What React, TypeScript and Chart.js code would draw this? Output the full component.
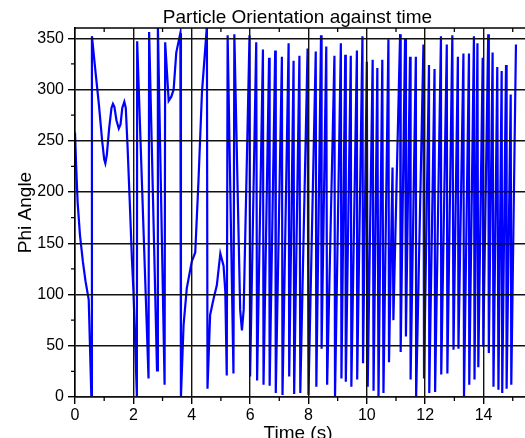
import React, { useEffect, useRef } from "react";
import { Chart, registerables } from "chart.js";

Chart.register(...registerables);

const titleText = "Particle Orientation against time";
const xAxisTitle = "Time (s)";
const yAxisTitle = "Phi Angle";

const xTickValues = [0, 2, 4, 6, 8, 10, 12, 14];
const xMinorTicks = [1, 3, 5, 7, 9, 11, 13, 15];
const yTickValues = [0, 50, 100, 150, 200, 250, 300, 350];
const yMinorTicks = [25, 75, 125, 175, 225, 275, 325];

const timeValues = [
  0.0, 0.04, 0.09, 0.17, 0.27, 0.36, 0.47, 0.56, 0.58, 0.7, 0.82, 0.93, 1.0, 1.04, 1.09, 1.17, 1.25, 1.3, 1.35,
  1.42, 1.5, 1.56, 1.62, 1.69, 1.74, 1.8, 1.87, 1.95, 2.0, 2.06, 2.12, 2.13, 2.52, 2.54, 2.81, 2.84, 3.07,
  3.09, 3.21, 3.3, 3.38, 3.47, 3.61, 3.63, 3.72, 3.83, 4.0, 4.12, 4.23, 4.35, 4.52, 4.54, 4.63, 4.75, 4.86,
  4.98, 5.09, 5.15, 5.2, 5.23, 5.43, 5.46, 5.66, 5.72, 5.78, 5.98, 6.0, 6.21, 6.24, 6.44, 6.46, 6.65, 6.67,
  6.86, 6.88, 7.09, 7.11, 7.32, 7.34, 7.49, 7.51, 7.69, 7.72, 7.97, 8.0, 8.25, 8.27, 8.43, 8.45, 8.61, 8.64,
  8.89, 8.91, 9.11, 9.13, 9.26, 9.28, 9.45, 9.47, 9.66, 9.67, 9.85, 9.87, 10.0, 10.03, 10.2, 10.23, 10.36,
  10.4, 10.53, 10.57, 10.74, 10.76, 10.88, 10.91, 11.14, 11.16, 11.31, 11.34, 11.48, 11.5, 11.68, 11.69,
  11.94, 11.96, 12.13, 12.14, 12.32, 12.34, 12.54, 12.55, 12.74, 12.76, 12.93, 12.97, 13.12, 13.14, 13.31,
  13.33, 13.5, 13.51, 13.67, 13.69, 13.79, 13.82, 13.97, 13.99, 14.16, 14.18, 14.31, 14.34, 14.47, 14.51,
  14.62, 14.64, 14.77, 14.79, 14.93, 14.95, 15.11,
];

const phiValues = [
  258, 225, 190, 158, 132, 113, 95, 0, 352, 318, 285, 250, 232, 228, 236, 262, 282, 286, 283,
  270, 262, 266, 282, 288, 282, 245, 195, 135, 105, 55, 1, 347, 18, 356, 26, 362, 12,
  346, 289, 293, 300, 336, 355, 0, 70, 106, 132, 141, 210, 297, 362, 8, 80, 96, 109,
  140, 128, 103, 21, 353, 23, 354, 85, 65, 85, 353, 20, 346, 16, 339, 12, 331, 11,
  338, 4, 332, 2, 345, 20, 328, 3, 333, 4, 340, 2, 337, 10, 353, 47, 342, 12,
  333, 0, 345, 18, 334, 15, 333, 10, 338, 17, 352, 33, 327, 10, 329, 6, 321,
  0, 329, 4, 349, 34, 224, 75, 354, 44, 350, 59, 332, 17, 332, 0,
  344, 18, 324, 4, 320, 5, 352, 22, 344, 23, 353, 46, 332, 47, 335,
  0, 335, 12, 352, 17, 345, 29, 331, 49, 354, 43, 336, 10, 322, 7,
  318, 4, 324, 8, 295, 12, 344,
];

const FONT = '"Liberation Sans", Arial, Helvetica, sans-serif';

export default function App() {
  const canvasRef = useRef<HTMLCanvasElement>(null);

  useEffect(() => {
    const canvas = canvasRef.current;
    if (!canvas) return;

    const decor = {
      id: "decor",
      afterDraw(chart: any) {
        const { ctx, chartArea: ca, scales } = chart;
        const xs = scales.x;
        const ys = scales.y;
        ctx.save();
        ctx.strokeStyle = "#000";
        ctx.lineWidth = 1.5;
        ctx.beginPath();
        ctx.moveTo(ca.left, ca.top);
        ctx.lineTo(ca.right, ca.top);
        ctx.stroke();

        ctx.lineWidth = 1.3;
        ctx.beginPath();
        for (const v of xMinorTicks) {
          const px = xs.getPixelForValue(v);
          if (px > ca.right) continue;
          ctx.moveTo(px, ca.bottom);
          ctx.lineTo(px, ca.bottom + 4);
          ctx.moveTo(px, ca.top);
          ctx.lineTo(px, ca.top + 4);
        }
        for (const v of yMinorTicks) {
          const py = ys.getPixelForValue(v);
          ctx.moveTo(ca.left - 4, py);
          ctx.lineTo(ca.left, py);
        }
        ctx.stroke();

        ctx.fillStyle = "#000";
        ctx.font = `19px ${FONT}`;
        ctx.textAlign = "center";
        ctx.textBaseline = "alphabetic";
        ctx.fillText(titleText, 297.5, 23);
        ctx.fillText(xAxisTitle, 298, 439);

        ctx.translate(31, (ca.top + ca.bottom) / 2);
        ctx.rotate(-Math.PI / 2);
        ctx.fillText(yAxisTitle, 0, 0);
        ctx.restore();
      },
    };

    const chart = new Chart(canvas, {
      type: "line",
      data: {
        datasets: [
          {
            data: timeValues.map((t, i) => ({ x: t, y: phiValues[i] })),
            borderColor: "#0000ff",
            borderWidth: 2.2,
            pointRadius: 0,
            tension: 0,
            fill: false,
          },
        ],
      },
      options: {
        responsive: false,
        animation: false,
        devicePixelRatio: 1,
        layout: { padding: { top: 28, left: 0, right: 0, bottom: 0 } },
        plugins: {
          legend: { display: false },
          tooltip: { enabled: false },
          title: { display: false },
        },
        scales: {
          x: {
            type: "linear",
            min: 0,
            max: 15.42,
            afterBuildTicks: (s: any) => {
              s.ticks = xTickValues.map((v) => ({ value: v }));
            },
            afterFit: (s: any) => {
              s.height = 41;
            },
            ticks: {
              color: "#000",
              font: { family: FONT, size: 16 },
              padding: 2,
              maxRotation: 0,
              autoSkip: false,
              callback: (v: any) => String(v),
            },
            grid: {
              color: "#111",
              lineWidth: 1.4,
              tickLength: 7,
              tickColor: "#000",
              tickWidth: 1.4,
              z: 1,
            },
            border: { display: true, color: "#000", width: 1.5, z: 1 },
          },
          y: {
            type: "linear",
            min: 0,
            max: 360,
            afterBuildTicks: (s: any) => {
              s.ticks = yTickValues.map((v) => ({ value: v }));
            },
            afterFit: (s: any) => {
              s.width = 75;
            },
            ticks: {
              color: "#000",
              font: { family: FONT, size: 16 },
              padding: 4,
              autoSkip: false,
              callback: (v: any) => String(v),
            },
            grid: {
              color: "#111",
              lineWidth: 1.4,
              tickLength: 7,
              tickColor: "#000",
              tickWidth: 1.4,
              z: 1,
            },
            border: { display: true, color: "#000", width: 1.5, z: 1 },
          },
        },
      },
      plugins: [decor],
    });

    return () => {
      chart.destroy();
    };
  }, []);

  return (
    <div style={{ position: "absolute", left: 0, top: 0, width: 525, height: 438, overflow: "hidden", background: "#fff" }}>
      <canvas ref={canvasRef} width={525} height={438} style={{ display: "block", width: 525, height: 438 }} />
    </div>
  );
}
